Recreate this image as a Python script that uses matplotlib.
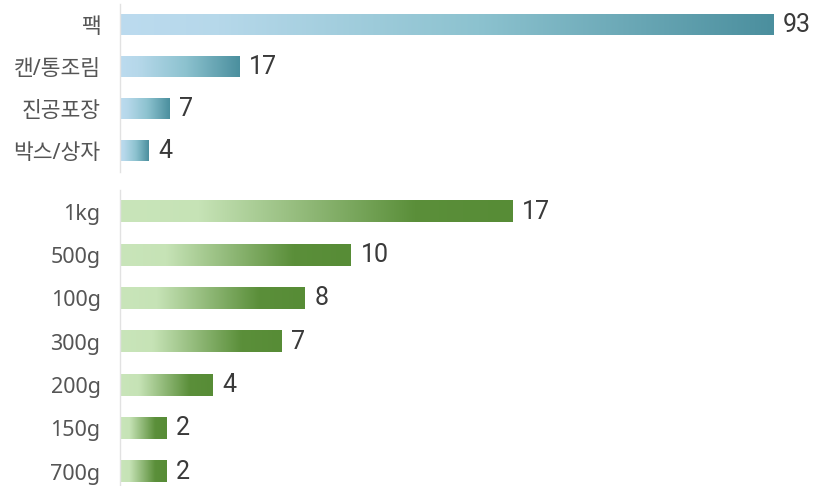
import matplotlib
matplotlib.use('Agg')
import matplotlib.pyplot as plt
import numpy as np
from matplotlib.colors import LinearSegmentedColormap

plt.rcParams['font.family'] = ['Noto Sans', 'Noto Sans CJK KR', 'DejaVu Sans']

# data
pack_labels = ['팩', '캔/통조림', '진공포장', '박스/상자']
pack_values = [93, 17, 7, 4]
size_labels = ['1kg', '500g', '100g', '300g', '200g', '150g', '700g']
size_values = [17, 10, 8, 7, 4, 2, 2]

blue = LinearSegmentedColormap.from_list(
    'blue', [(0, '#bcdbef'), (0.15, '#b6d8ea'), (0.55, '#8cc2cf'), (1, '#4b8f9e')])
green = LinearSegmentedColormap.from_list(
    'green', [(0, '#c9e5ba'), (0.2, '#c6e3b6'), (0.75, '#5b8f3a'), (1, '#578c36')])

W, H = 813, 486
fig = plt.figure(figsize=(W / 100, H / 100), dpi=100)

left = 120
right = 800
# top axes: px 4..172 ; bottom axes: px 190..486
ax1 = fig.add_axes([left / W, 1 - 172 / H, (right - left) / W, 168 / H])
ax2 = fig.add_axes([left / W, 0, (right - left) / W, 296 / H])

grad = np.linspace(0, 1, 256).reshape(1, -1)


def draw(ax, labels, values, cmap, ppu, ybottom, bh):
    # ppu = pixels per data unit
    for i, v in enumerate(values):
        ax.imshow(grad, cmap=cmap, aspect='auto', interpolation='bilinear',
                  extent=[0, v, i + bh / 2, i - bh / 2], zorder=2)
        ax.text(v + 10 / ppu, i, str(v), va='center', ha='left', fontsize=18,
                color='#3a3a3a', family=['Roboto', 'DejaVu Sans'])
    ax.set_xlim(0, (right - left) / ppu)
    ax.set_ylim(ybottom, -0.5)
    ax.set_yticks(range(len(labels)))
    ax.set_yticklabels(labels, fontsize=15.5, color='#555555')
    ax.tick_params(axis='y', length=0, pad=14)
    ax.set_xticks([])
    for s in ['top', 'right', 'bottom']:
        ax.spines[s].set_visible(False)
    ax.spines['left'].set_color('#e2e2e2')
    ax.spines['left'].set_linewidth(1)


draw(ax1, pack_labels, pack_values, blue, 653 / 93, 3.5, 0.48)
draw(ax2, size_labels, size_values, green, 392 / 17, 6.33, 0.49)

fig.savefig('out.png', dpi=100)
